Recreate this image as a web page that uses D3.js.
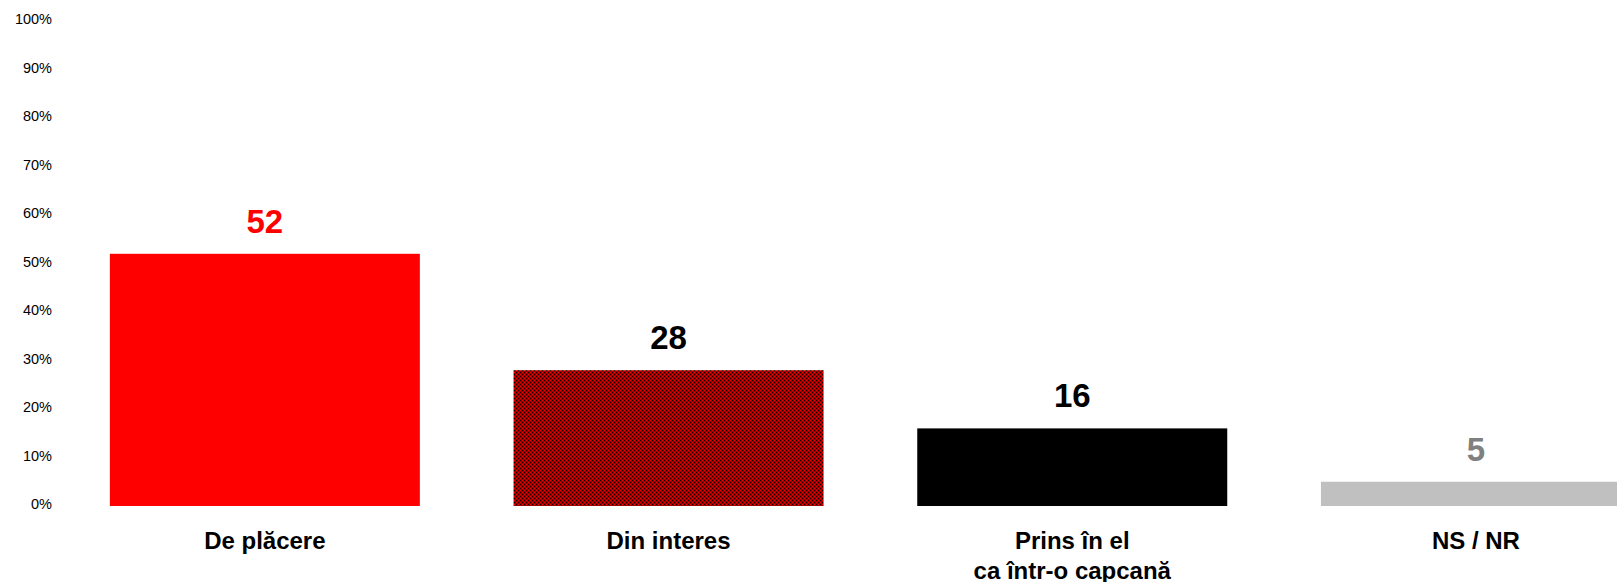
<!DOCTYPE html>
<html>
<head>
<meta charset="utf-8">
<script src="https://cdn.jsdelivr.net/npm/d3@7"></script>
<style>
  body { margin: 0; background: #fff; }
  svg { display: block; font-family: "Liberation Sans", Arial, sans-serif; }
</style>
</head>
<body>
<div id="chart"></div>
<script>
const categories = [['De plăcere'], ['Din interes'], ['Prins în el', 'ca într-o capcană'], ['NS / NR']];
const values = [52, 28, 16, 5];
const yTicks = [0, 10, 20, 30, 40, 50, 60, 70, 80, 90, 100];

const width = 1617, height = 582;
const margin = { left: 63, top: 21, bottom: 76 };
const step = 403.7;

const svg = d3.select('#chart').append('svg')
  .attr('width', width)
  .attr('height', height);

// hatch for the second bar
const defs = svg.append('defs');
const pat = defs.append('pattern')
  .attr('id', 'darkred')
  .attr('width', 4).attr('height', 4)
  .attr('patternUnits', 'userSpaceOnUse');
pat.append('rect').attr('width', 4).attr('height', 4).attr('fill', '#990000');
pat.append('rect').attr('x', 0).attr('y', 0).attr('width', 1).attr('height', 1).attr('fill', '#000');
pat.append('rect').attr('x', 2).attr('y', 2).attr('width', 1).attr('height', 1).attr('fill', '#000');
pat.append('rect').attr('x', 2).attr('y', 0).attr('width', 1).attr('height', 1).attr('fill', '#ff0000');
pat.append('rect').attr('x', 0).attr('y', 2).attr('width', 1).attr('height', 1).attr('fill', '#ff0000');

const fills = ['#ff0000', 'url(#darkred)', '#000000', '#c0c0c0'];
const labelColors = ['#ff0000', '#000000', '#000000', '#808080'];

const x = d3.scaleBand()
  .domain(d3.range(categories.length))
  .range([margin.left, margin.left + step * categories.length])
  .paddingInner(93.7 / step)
  .paddingOuter(46.85 / step);

const y = d3.scaleLinear()
  .domain([0, 100])
  .range([height - margin.bottom, margin.top]);

// y axis
const yAxis = svg.append('g')
  .attr('transform', 'translate(52,-2)')
  .call(d3.axisLeft(y).tickValues(yTicks).tickFormat(d => d + '%').tickSize(0).tickPadding(0));
yAxis.select('.domain').remove();
yAxis.selectAll('text')
  .attr('font-size', 14.5)
  .attr('font-family', '"Liberation Sans", Arial, sans-serif')
  .attr('fill', '#000');

// bars
svg.append('g')
  .selectAll('rect')
  .data(values)
  .join('rect')
  .attr('x', (d, i) => x(i))
  .attr('y', d => y(d))
  .attr('width', x.bandwidth())
  .attr('height', d => y(0) - y(d))
  .attr('fill', (d, i) => fills[i]);

// value labels
svg.append('g')
  .selectAll('text')
  .data(values)
  .join('text')
  .attr('x', (d, i) => x(i) + x.bandwidth() / 2)
  .attr('y', d => y(d) - 21)
  .attr('text-anchor', 'middle')
  .attr('font-size', 33)
  .attr('font-weight', 'bold')
  .attr('fill', (d, i) => labelColors[i])
  .text(d => d);

// category labels
const catG = svg.append('g')
  .selectAll('text')
  .data(categories)
  .join('text')
  .attr('x', (d, i) => x(i) + x.bandwidth() / 2)
  .attr('y', 549)
  .attr('text-anchor', 'middle')
  .attr('font-size', 24)
  .attr('font-weight', 'bold')
  .attr('fill', '#000');

catG.selectAll('tspan')
  .data(d => d)
  .join('tspan')
  .attr('x', function () { return d3.select(this.parentNode).attr('x'); })
  .attr('dy', (d, i) => i === 0 ? 0 : 29.5)
  .text(d => d);
</script>
</body>
</html>
